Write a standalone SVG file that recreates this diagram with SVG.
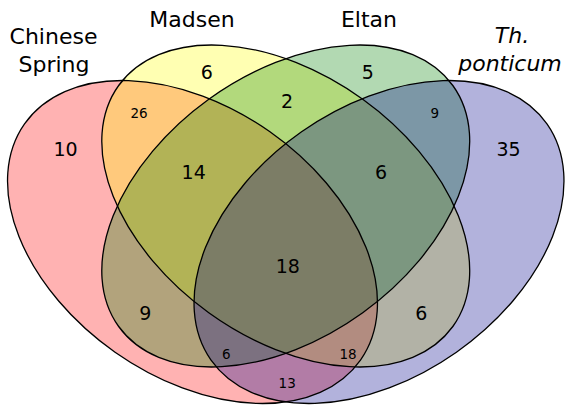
<svg xmlns="http://www.w3.org/2000/svg" xmlns:xlink="http://www.w3.org/1999/xlink" width="565" height="406" viewBox="0 0 565 406">
  <style>
    .set { stroke: none; fill-opacity: 0.3; }
    .outline { fill: none; stroke: #000; stroke-width: 1.3; }
    .title { font-family: "DejaVu Sans", "Liberation Sans", sans-serif; font-size: 22px; fill: #000; text-anchor: middle; }
    .big { font-family: "DejaVu Sans", "Liberation Sans", sans-serif; font-size: 19px; fill: #000; text-anchor: middle; }
    .small { font-family: "DejaVu Sans", "Liberation Sans", sans-serif; font-size: 13.5px; fill: #000; text-anchor: middle; }
  </style>
  <defs>
    <ellipse id="shape-cs" cx="192.5" cy="242" rx="205.3" ry="134.7" transform="rotate(35.1 192.5 242)"/>
    <ellipse id="shape-madsen" cx="285.75" cy="206" rx="206" ry="131.6" transform="rotate(35.8 285.75 206)"/>
    <ellipse id="shape-eltan" cx="285.75" cy="206" rx="206" ry="131.6" transform="rotate(-35.8 285.75 206)"/>
    <ellipse id="shape-tp" cx="379" cy="242" rx="205.3" ry="134.7" transform="rotate(-35.1 379 242)"/>
  </defs>

  <!-- set areas, drawn first so the outlines stay black -->
  <g id="chinese-spring">
    <use xlink:href="#shape-cs" class="set" fill="#FF0000"/>
    <text class="title" x="53.5" y="43.5">Chinese</text>
    <text class="title" x="54" y="72">Spring</text>
  </g>
  <g id="madsen">
    <use xlink:href="#shape-madsen" class="set" fill="#FFFF00"/>
    <text class="title" x="192" y="26.7">Madsen</text>
  </g>
  <g id="eltan">
    <use xlink:href="#shape-eltan" class="set" fill="#008000"/>
    <text class="title" x="369" y="27.3">Eltan</text>
  </g>
  <g id="th-ponticum">
    <use xlink:href="#shape-tp" class="set" fill="#00008B"/>
    <text class="title" x="512" y="43.3" font-style="italic">Th.</text>
    <text class="title" x="510" y="71" font-style="italic">ponticum</text>
  </g>

  <!-- borders -->
  <g id="outlines">
    <use xlink:href="#shape-cs" class="outline"/>
    <use xlink:href="#shape-madsen" class="outline"/>
    <use xlink:href="#shape-eltan" class="outline"/>
    <use xlink:href="#shape-tp" class="outline"/>
  </g>

  <!-- region counts -->
  <g id="counts">
    <text class="big" x="65.5" y="156">10</text>
    <text class="big" x="206.7" y="79">6</text>
    <text class="big" x="367.7" y="79">5</text>
    <text class="big" x="508.5" y="155.7">35</text>
    <text class="small" x="139" y="118.3">26</text>
    <text class="big" x="287" y="108.3">2</text>
    <text class="small" x="434.7" y="118.3">9</text>
    <text class="big" x="193.7" y="179">14</text>
    <text class="big" x="381" y="179">6</text>
    <text class="big" x="287.8" y="272.7">18</text>
    <text class="big" x="145.3" y="320">9</text>
    <text class="big" x="421.3" y="320">6</text>
    <text class="small" x="226.3" y="359">6</text>
    <text class="small" x="348" y="359">18</text>
    <text class="small" x="287.2" y="388.3">13</text>
  </g>
</svg>
